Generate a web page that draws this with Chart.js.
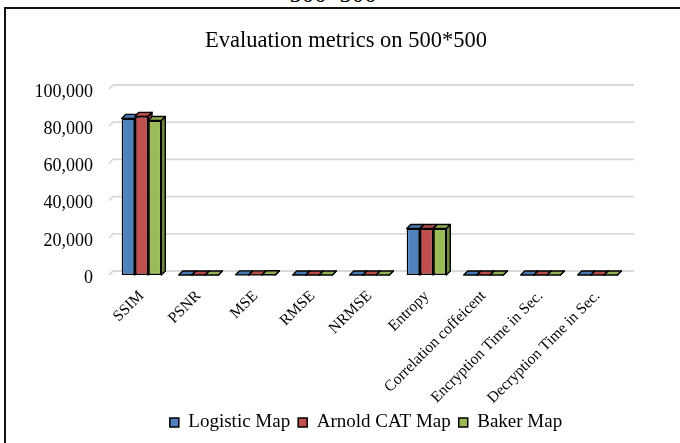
<!DOCTYPE html>
<html>
<head>
<meta charset="utf-8">
<script src="https://cdn.jsdelivr.net/npm/chart.js@4"></script>
<style>
  body { margin: 0; background: #fff; width: 680px; height: 443px; overflow: hidden; position: relative; }
  #frame { position: absolute; left: 4px; top: 7px; width: 800px; height: 800px; border-left: 2px solid #111; border-top: 2px solid #111; }
  #cap { position: absolute; left: 0; width: 666px; top: -20px; text-align: center; font: 25px "Liberation Serif", serif; color: #000; }
  #wrap { position: absolute; left: 0; top: 0; width: 680px; height: 443px; }
</style>
</head>
<body>
<div id="cap">500*500</div>
<div id="frame"></div>
<div id="wrap"><canvas id="chart"></canvas></div>
<script>
const categories = ['SSIM', 'PSNR', 'MSE', 'RMSE', 'NRMSE', 'Entropy',
    'Correlation coffeicent', 'Encryption Time in Sec.', 'Decryption Time in Sec.'];
const seriesNames = ['Logistic Map', 'Arnold CAT Map', 'Baker Map'];
const logisticMap = [84200, 30, 90, 9, 0.04, 25000, 0.002, 1.2, 1.1];
const arnoldCatMap = [85300, 31, 85, 9, 0.04, 25000, 0.003, 1.0, 0.9];
const bakerMap = [83100, 29, 95, 10, 0.04, 25000, 0.002, 1.1, 1.0];
const yTicks = [0, 20000, 40000, 60000, 80000, 100000];

const frontColors = ['#4F81BD', '#C0504D', '#9BBB59'];
const topColors = ['#4A7AB3', '#B64B48', '#92B154'];
const sideColors = ['#3A6190', '#8E3A38', '#71893F'];
const depth = 4;

// fake 3d: back gridlines + top/side faces, fronts are drawn by chart.js on top
const bar3d = {
    id: 'bar3d',
    afterLayout(chart) {
        // excel centres title/legend a bit right of the canvas middle
        chart.titleBlock.left += 33;
        chart.titleBlock.right += 33;
        chart.legend.left += 53;
        chart.legend.right += 53;
    },
    beforeDatasetsDraw(chart) {
        const ctx = chart.ctx;
        const area = chart.chartArea;
        const yScale = chart.scales.y;
        ctx.save();
        ctx.strokeStyle = '#d9d9d9';
        ctx.lineWidth = 1.8;
        yScale.ticks.forEach(t => {
            const py = yScale.getPixelForValue(t.value);
            ctx.beginPath();
            ctx.moveTo(area.left - depth, py);
            ctx.lineTo(area.left, py - depth);
            ctx.lineTo(area.right + depth + 4, py - depth);
            ctx.stroke();
        });
        ctx.strokeStyle = '#000';
        ctx.lineWidth = 1.4;
        ctx.lineJoin = 'round';
        chart.data.datasets.forEach((ds, di) => {
            chart.getDatasetMeta(di).data.forEach(bar => {
                const x0 = bar.x - bar.width / 2;
                const x1 = bar.x + bar.width / 2;
                const top = Math.min(bar.y, bar.base);
                const bottom = Math.max(bar.y, bar.base);
                ctx.fillStyle = sideColors[di];
                ctx.beginPath();
                ctx.moveTo(x1, top);
                ctx.lineTo(x1 + depth, top - depth);
                ctx.lineTo(x1 + depth, bottom - depth);
                ctx.lineTo(x1, bottom);
                ctx.closePath();
                ctx.fill();
                ctx.stroke();
                ctx.fillStyle = topColors[di];
                ctx.beginPath();
                ctx.moveTo(x0, top);
                ctx.lineTo(x0 + depth, top - depth);
                ctx.lineTo(x1 + depth, top - depth);
                ctx.lineTo(x1, top);
                ctx.closePath();
                ctx.fill();
                ctx.stroke();
            });
        });
        ctx.restore();
    }
};

const serif = '"Liberation Serif", "Times New Roman", serif';
const allSeries = [logisticMap, arnoldCatMap, bakerMap];

new Chart(document.getElementById('chart'), {
    type: 'bar',
    data: {
        labels: categories,
        datasets: allSeries.map((vals, i) => ({
            label: seriesNames[i],
            data: vals,
            backgroundColor: frontColors[i],
            borderColor: '#000',
            borderWidth: 1.5,
            borderSkipped: false,
            categoryPercentage: 0.7,
            barPercentage: 0.98
        }))
    },
    options: {
        responsive: true,
        maintainAspectRatio: false,
        animation: false,
        layout: { padding: { top: 28, right: 54, bottom: 1, left: 0 } },
        plugins: {
            title: {
                display: true,
                text: 'Evaluation metrics on 500*500',
                color: '#000',
                font: { family: serif, size: 22.5, weight: 'normal' },
                padding: { top: 0, bottom: 34 }
            },
            legend: {
                position: 'bottom',
                labels: {
                    color: '#000',
                    font: { family: serif, size: 19 },
                    boxWidth: 9,
                    boxHeight: 9,
                    padding: 8,
                    generateLabels(chart) {
                        return seriesNames.map((n, i) => ({
                            text: n,
                            fillStyle: frontColors[i],
                            strokeStyle: '#000',
                            lineWidth: 1.5,
                            datasetIndex: i
                        }));
                    }
                }
            },
            tooltip: { enabled: false }
        },
        scales: {
            x: {
                afterFit(s) {
                    s.height = 130;
                    s._computeLabelArea = () => undefined;  // let long labels run past the axis box
                },
                grid: { display: false, drawTicks: false },
                border: { display: false },
                ticks: {
                    color: '#000',
                    font: { family: serif, size: 15.5 },
                    maxRotation: 45,
                    minRotation: 45,
                    autoSkip: false,
                    padding: 12
                }
            },
            y: {
                min: 0,
                max: 100000,
                afterFit(s) { s.width = 113; },
                afterBuildTicks(s) { s.ticks = yTicks.map(v => ({ value: v })); },
                grid: { display: false, drawTicks: false },
                border: { display: false },
                ticks: {
                    color: '#000',
                    font: { family: serif, size: 18 },
                    padding: 20,
                    labelOffset: 3,
                    callback: v => v.toLocaleString('en-US')
                }
            }
        }
    },
    plugins: [bar3d]
});
</script>
</body>
</html>
